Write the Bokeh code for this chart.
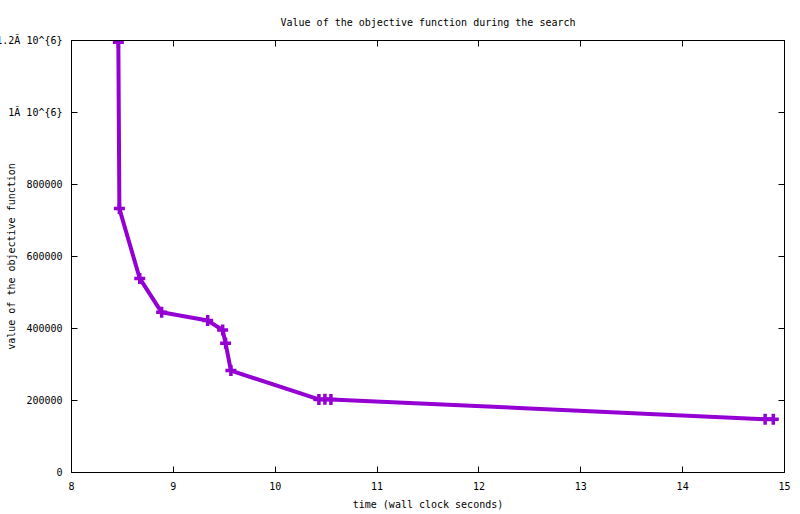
from bokeh.plotting import figure
from bokeh.models import Range1d, FixedTicker, LinearAxis
from bokeh.embed import file_html
from bokeh.resources import INLINE

# ---- data ----
time_s = [8.46, 8.47, 8.67, 8.885, 9.337, 9.484, 9.513, 9.565, 10.429, 10.488, 10.547, 14.81, 14.89]
objective = [1195000, 733000, 539000, 445000, 422000, 396000, 359000, 283000, 203000, 203500, 203000, 148000, 148000]

x_ticks = [8, 9, 10, 11, 12, 13, 14, 15]
y_ticks = [0, 200000, 400000, 600000, 800000, 1000000, 1200000]
y_tick_labels = ["0", "200000", "400000", "600000", "800000", "1Ă 10^{6}", "1.2Ă 10^{6}"]

title_text = "Value of the objective function during the search"
x_title = "time (wall clock seconds)"
y_title = "value of the objective function"

FONT = "DejaVu Sans Mono"
FS = "10px"
LINE_COLOR = "#9400D3"

p = figure(width=800, height=514, output_backend="svg", toolbar_location=None,
           x_range=Range1d(8, 15), y_range=Range1d(0, 1200000),
           min_border_left=71, min_border_right=16, min_border_top=40, min_border_bottom=42,
           x_axis_location=None, y_axis_location=None)
p.background_fill_color = "white"
p.border_fill_color = "white"
p.outline_line_color = "black"
p.outline_line_width = 1
p.xgrid.visible = False
p.ygrid.visible = False

p.title.text = title_text
p.title.align = "center"
p.title.text_font = FONT
p.title.text_font_size = FS
p.title.text_font_style = "normal"
p.title.text_color = "black"
p.title.standoff = 26


def make_axis(ticks):
    ax = LinearAxis(ticker=FixedTicker(ticks=ticks))
    ax.major_tick_in = 6
    ax.major_tick_out = 0
    ax.minor_tick_in = 0
    ax.minor_tick_out = 0
    ax.axis_line_color = "black"
    ax.major_tick_line_color = "black"
    ax.major_label_text_font = FONT
    ax.major_label_text_font_size = FS
    ax.major_label_text_color = "black"
    ax.axis_label_text_font = FONT
    ax.axis_label_text_font_size = FS
    ax.axis_label_text_font_style = "normal"
    ax.axis_label_text_color = "black"
    return ax


def hide_labels(ax, ticks):
    ax.major_label_overrides = {t: "" for t in ticks}
    ax.major_label_standoff = 0
    ax.major_label_text_font_size = "0px"


bottom = make_axis(x_ticks)
bottom.major_label_standoff = 9
bottom.axis_label = x_title
bottom.axis_label_standoff = 6
p.add_layout(bottom, "below")

left = make_axis(y_ticks)
left.major_label_overrides = {t: s for t, s in zip(y_ticks, y_tick_labels)}
left.major_label_standoff = 9
left.axis_label = y_title
left.axis_label_standoff = -24
p.add_layout(left, "left")

top = make_axis(x_ticks)
hide_labels(top, x_ticks)
p.add_layout(top, "above")

right = make_axis(y_ticks)
hide_labels(right, y_ticks)
p.add_layout(right, "right")

p.line(time_s, objective, line_color=LINE_COLOR, line_width=4)
p.scatter(time_s, objective, marker="cross", size=11, line_color=LINE_COLOR, line_width=3.5)

open("out.html", "w").write(file_html(p, INLINE))
